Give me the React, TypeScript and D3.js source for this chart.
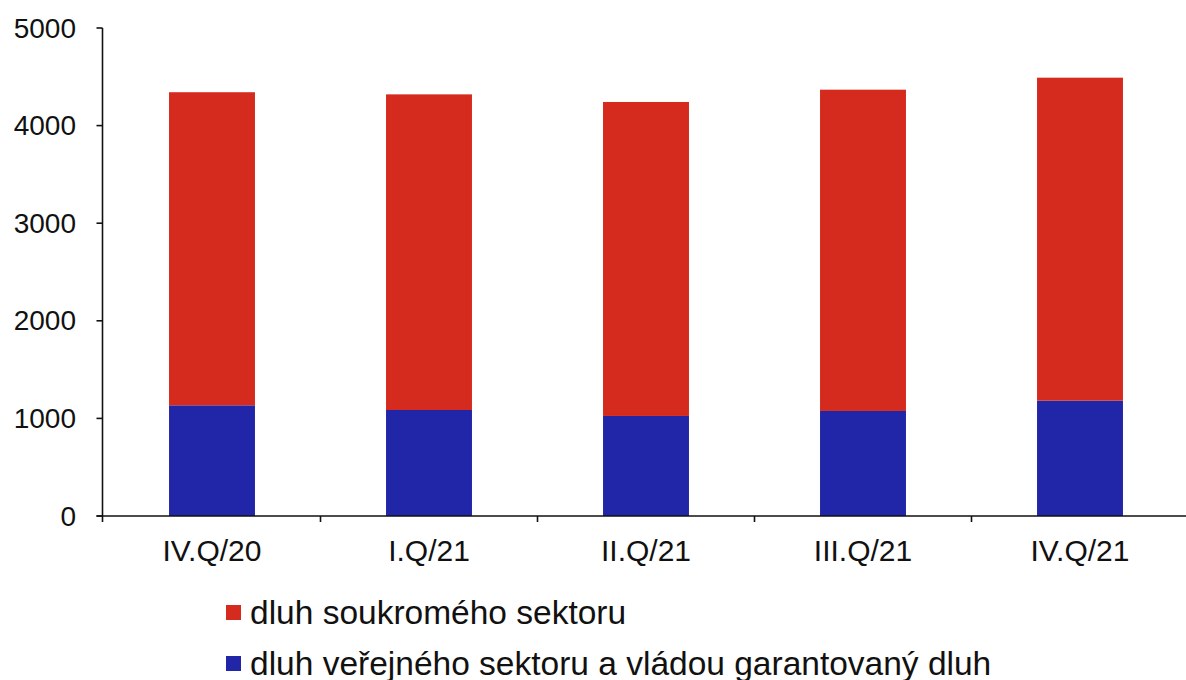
import React from "react";
import * as d3 from "d3";

const categories = ["IV.Q/20", "I.Q/21", "II.Q/21", "III.Q/21", "IV.Q/21"];
const publicDebt = [1134, 1086, 1025, 1076, 1182];
const privateDebt = [3208, 3234, 3217, 3292, 3309];
const yTicks = [0, 1000, 2000, 3000, 4000, 5000];
const seriesNames = ["dluh soukromého sektoru", "dluh veřejného sektoru a vládou garantovaný dluh"];
const seriesColors = ["#D52A1E", "#2125A8"];

const W = 1186;
const H = 680;
const FONT = "'Liberation Sans', Arial, sans-serif";

export default function App() {
  const bandStart = 103.5;
  const bandStep = 217;
  const x = d3
    .scaleBand<string>()
    .domain(categories)
    .range([bandStart, bandStart + categories.length * bandStep])
    .paddingInner(0.604)
    .paddingOuter(0.302);
  const y = d3.scaleLinear().domain([0, 5000]).range([516, 28]);

  const step = x.step();
  const x0 = 102.5;

  return (
    <svg
      width={W}
      height={H}
      style={{ position: "absolute", left: 0, top: 0, background: "#fff" }}
      fontFamily={FONT}
    >
      {categories.map((c, i) => {
        const bx = x(c)!;
        const bw = x.bandwidth();
        const pub = publicDebt[i];
        const tot = pub + privateDebt[i];
        return (
          <g key={c}>
            <rect x={bx} y={y(pub)} width={bw} height={y(0) - y(pub)} fill={seriesColors[1]} />
            <rect x={bx} y={y(tot)} width={bw} height={y(pub) - y(tot)} fill={seriesColors[0]} />
          </g>
        );
      })}
      {/* y axis */}
      <line x1={x0} x2={x0} y1={y(5000)} y2={y(0) + 6} stroke="#111" strokeWidth={1.6} />
      {yTicks.map((t) => (
        <g key={t}>
          <line x1={x0 - 6} x2={x0} y1={y(t)} y2={y(t)} stroke="#111" strokeWidth={1.6} />
          <text
            x={76}
            y={y(t)}
            textAnchor="end"
            dominantBaseline="central"
            fontSize={28}
            fill="#111"
          >
            {t}
          </text>
        </g>
      ))}
      {/* x axis */}
      <line x1={x0 - 6} x2={W} y1={y(0)} y2={y(0)} stroke="#111" strokeWidth={1.6} />
      {categories.map((c, i) =>
        i === 0 ? null : (
          <line
            key={"t" + c}
            x1={bandStart + i * step}
            x2={bandStart + i * step}
            y1={y(0)}
            y2={y(0) + 6}
            stroke="#111"
            strokeWidth={1.6}
          />
        )
      )}
      {categories.map((c) => (
        <text
          key={"l" + c}
          x={x(c)! + x.bandwidth() / 2}
          y={550}
          textAnchor="middle"
          dominantBaseline="central"
          fontSize={30}
          fill="#111"
        >
          {c}
        </text>
      ))}
      {/* legend */}
      {seriesNames.map((n, i) => (
        <g key={n} transform={`translate(226, ${612 + i * 51})`}>
          <rect x={0} y={-7} width={15} height={15} fill={seriesColors[i]} />
          <text x={24} y={0} dominantBaseline="central" fontSize={33.5} fill="#111">
            {n}
          </text>
        </g>
      ))}
    </svg>
  );
}
